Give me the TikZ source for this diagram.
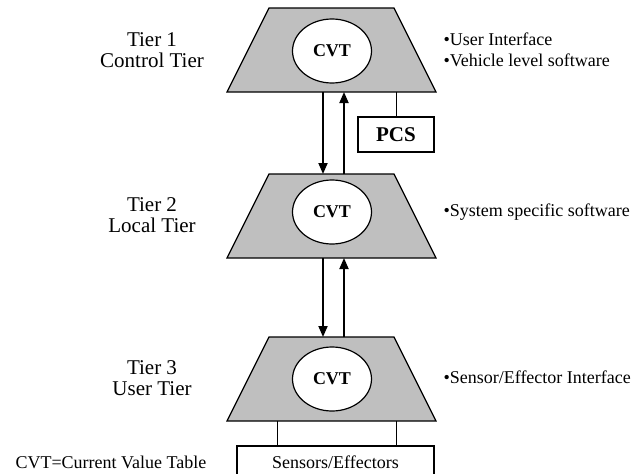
\documentclass[tikz,border=0pt]{standalone}
\usepackage{fontspec}
\setmainfont{Liberation Serif}
\usetikzlibrary{arrows.meta,shapes.geometric}
\begin{document}
\begin{tikzpicture}[x=1pt,y=-1pt,
  tierframe/.style={minimum width=209pt,minimum height=84pt,inner sep=0pt,outer sep=0pt},
  trap/.style={fill=black!25,draw=black,line width=1.2pt,line join=miter},
  cvt/.style={ellipse,draw=black,fill=white,line width=1.2pt,minimum width=79pt,minimum height=64pt,inner sep=0pt,font=\fontsize{18}{20}\selectfont\bfseries},
  boxnode/.style={draw=black,fill=white,line width=1.2pt,inner sep=0pt},
  flow/.style={line width=1.8pt,-{Triangle[length=11pt,width=9pt]}},
  link/.style={line width=0.9pt},
  tierlabel/.style={align=center,font=\fontsize{21}{21.5}\selectfont},
  note/.style={anchor=west,align=left,font=\fontsize{18}{21}\selectfont}]
\useasboundingbox (0,0) rectangle (638,474);

% invisible frames that carry the tier names
\node[tierframe] (t1) at (331.5,50) {};
\node[tierframe] (t2) at (331.5,216) {};
\node[tierframe] (t3) at (331.5,379) {};

% trapezoids: top edge inset 42pt on each side
\foreach \t in {t1,t2,t3}{
  \draw[trap] ([xshift=42pt]\t.north west) -- ([xshift=-42pt]\t.north east)
     -- (\t.south east) -- (\t.south west) -- cycle;
}

% current value tables
\node[cvt] (c1) at (332,51) {CVT};
\node[cvt] (c2) at (332,212) {CVT};
\node[cvt] (c3) at (332,379) {CVT};

% PCS box hanging off tier 1
\node[boxnode,minimum width=76pt,minimum height=35pt,font=\fontsize{21}{23}\selectfont\bfseries] (pcs) at (396,134.5) {PCS};
\draw[link] (pcs.north -| 396,0) -- (t1.south -| 396,0);

% sensors / effectors box under tier 3 (runs off the lower edge)
\node[boxnode,minimum width=197pt,minimum height=32pt,font=\fontsize{18}{20}\selectfont] (sens) at (335.5,462) {Sensors/Effectors};
\draw[link] (t3.south -| 277,0) -- (sens.north -| 277,0);
\draw[link] (t3.south -| 396,0) -- (sens.north -| 396,0);

% data flow between tiers
\draw[flow] ([xshift=-8.5pt]t1.south) -- ([xshift=-8.5pt]t2.north);
\draw[flow] ([xshift=12.5pt]t2.north) -- ([xshift=12.5pt]t1.south);
\draw[flow] ([xshift=-8.5pt]t2.south) -- ([xshift=-8.5pt]t3.north);
\draw[flow] ([xshift=12.5pt]t3.north) -- ([xshift=12.5pt]t2.south);

% tier names
\node[tierlabel] (l1) at (152,50) {Tier 1\\Control Tier};
\node[tierlabel] (l2) at (152,215) {Tier 2\\Local Tier};
\node[tierlabel] (l3) at (152,378) {Tier 3\\User Tier};

% responsibilities
\node[note] (n1) at (440,50) {\textbullet User Interface\\\textbullet Vehicle level software};
\node[note] (n2) at (440,212) {\textbullet System specific software};
\node[note] (n3) at (440,377) {\textbullet Sensor/Effector Interface};

% legend
\node[anchor=west,font=\fontsize{18}{20}\selectfont] (legend) at (12,462) {CVT=Current Value Table};
\end{tikzpicture}
\end{document}
